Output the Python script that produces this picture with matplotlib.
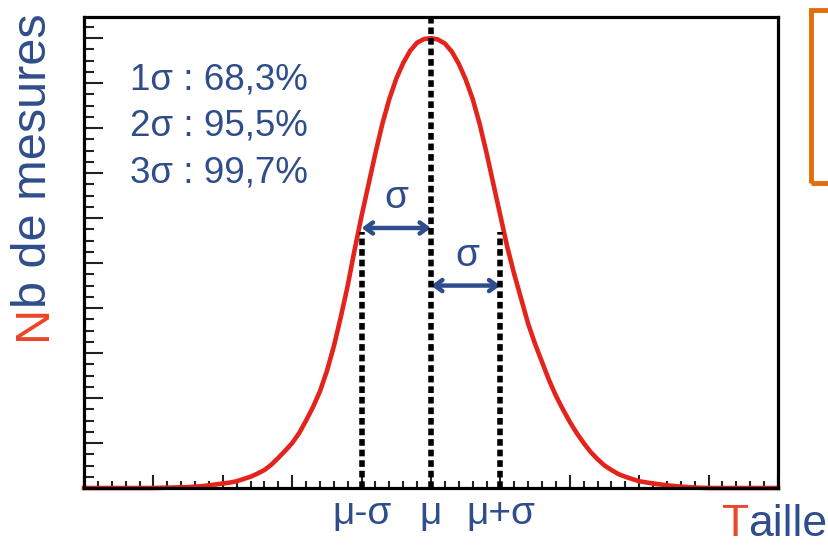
import matplotlib
matplotlib.use("Agg")
import matplotlib.pyplot as plt
from matplotlib.patches import Rectangle
from matplotlib.ticker import MultipleLocator

plt.rcParams['font.family'] = ['Liberation Sans', 'DejaVu Sans']

# courbe de Gauss relevée point par point (taille, nb de mesures)
taille = [0.0, 1.0, 1.5, 1.7, 1.9, 2.0, 2.1, 2.2, 2.3, 2.4, 2.5, 2.6, 2.7,
          2.8, 2.9, 3.0, 3.1, 3.2, 3.3, 3.4, 3.5, 3.6, 3.7, 3.8, 3.9, 4.0,
          4.1, 4.2, 4.3, 4.4, 4.5, 4.6, 4.7, 4.8, 4.9, 5.0, 5.1, 5.2, 5.3,
          5.4, 5.5, 5.6, 5.7, 5.8, 5.9, 6.0, 6.1, 6.2, 6.3, 6.4, 6.5, 6.6,
          6.7, 6.8, 6.9, 7.0, 7.1, 7.2, 7.3, 7.4, 7.5, 7.6, 7.7, 7.8, 7.9,
          8.0, 8.2, 8.4, 8.6, 8.8, 9.0, 10.0]
nb_mesures = [0.0, 0.0, 0.02, 0.04, 0.08, 0.10, 0.12, 0.15, 0.2, 0.25, 0.32,
              0.4, 0.52, 0.67, 0.83, 1.0, 1.22, 1.5, 1.8, 2.15, 2.6, 3.15,
              3.8, 4.5, 5.3, 6.05, 6.75, 7.45, 8.1, 8.65, 9.1, 9.45, 9.72,
              9.9, 9.98, 10.0, 9.97, 9.88, 9.7, 9.43, 9.08, 8.65, 8.1, 7.45,
              6.75, 6.05, 5.35, 4.75, 4.2, 3.65, 3.2, 2.8, 2.4, 2.05, 1.75,
              1.47, 1.22, 1.0, 0.8, 0.64, 0.5, 0.4, 0.31, 0.25, 0.2, 0.15,
              0.1, 0.06, 0.03, 0.01, 0.0, 0.0]

mu = 5.0
sigma = 1.0
sigma_top = 5.7          # haut des pointillés en mu-sigma et mu+sigma
fleches = [(4.0, 5.0, 5.78), (5.0, 6.0, 4.5)]   # (x debut, x fin, y)
labels_x = {4: 'μ-σ', 5: 'μ', 6: 'μ+σ'}
intervalles = ['1σ : 68,3%', '2σ : 95,5%', '3σ : 99,7%']

rouge = '#e4231c'
rouge_txt = '#ec4528'
bleu = '#2f4d8a'

fig = plt.figure(figsize=(8.29, 5.47), dpi=100)
ax = fig.add_axes([84 / 829, 1 - 488 / 547, 694 / 829, 471 / 547])

ax.plot(taille, nb_mesures, color=rouge, lw=3.3, zorder=3, clip_on=False,
        solid_joinstyle='round')

dash = (0, (1.2, 0.7))
ax.plot([mu, mu], [0, 10.47], color='black', lw=4.0, ls=dash, zorder=4)
for xv in (mu - sigma, mu + sigma):
    ax.plot([xv, xv], [0, sigma_top], color='black', lw=4.0, ls=dash, zorder=4)

for x0, x1, y in fleches:
    ax.annotate('', xy=(x1, y), xytext=(x0, y),
                arrowprops=dict(arrowstyle='<->,head_length=0.55,head_width=0.4',
                                color=bleu, lw=3.2, shrinkA=0, shrinkB=0))
ax.text(4.5, 6.05, 'σ', color=bleu, fontsize=28, ha='center', va='bottom')
ax.text(5.52, 4.75, 'σ', color=bleu, fontsize=28, ha='center', va='bottom')

for i, s in enumerate(intervalles):
    ax.text(0.66, 9.07 - 1.03 * i, s, color=bleu, fontsize=26.5,
            ha='left', va='center')

ax.set_xlim(0, 10)
ax.set_ylim(0, 10.47)
ax.set_xticks(range(11), [labels_x.get(k, '') for k in range(11)])
ax.xaxis.set_minor_locator(MultipleLocator(0.2))
ax.yaxis.set_major_locator(MultipleLocator(1))
ax.yaxis.set_minor_locator(MultipleLocator(0.25))
ax.set_yticklabels([])
ax.tick_params(axis='y', which='major', direction='in', length=13.5, width=1.5,
               color='#222222')
ax.tick_params(axis='y', which='minor', direction='in', length=7, width=1.5,
               color='#222222')
ax.tick_params(axis='x', which='major', direction='in', length=9.5, width=1.5,
               color='#222222', labelsize=28, labelcolor=bleu, pad=6)
ax.tick_params(axis='x', which='minor', direction='in', length=5, width=1.5,
               color='#222222')
for sp in ax.spines.values():
    sp.set_linewidth(2.3)
    sp.set_zorder(5)

# titres des axes en deux couleurs
fig.canvas.draw()
rend = fig.canvas.get_renderer()
t_n = fig.text(46 / 829, 1 - 340 / 547, 'N', rotation=90, rotation_mode='anchor',
               ha='left', va='baseline', color=rouge_txt, fontsize=35)
bb = t_n.get_window_extent(rend)
fig.text(46 / 829, (bb.y1 - 3) / fig.bbox.height, 'b de mesures', rotation=90,
         rotation_mode='anchor', ha='left', va='baseline', color=bleu, fontsize=35)

t_t = fig.text(722 / 829, 1 - 536 / 547, 'T', ha='left', va='baseline',
               color=rouge_txt, fontsize=32)
bb = t_t.get_window_extent(rend)
fig.text((bb.x1 - 1) / fig.bbox.width, 1 - 536 / 547, 'aille', ha='left',
         va='baseline', color=bleu, fontsize=32)

# cadre orange coupé par le bord droit
fig.patches.append(Rectangle((811 / 829, 1 - 183 / 547), 60 / 829, 173 / 547,
                             transform=fig.transFigure, fill=False,
                             edgecolor='#e46c0a', lw=3.5))

fig.savefig('out.png', dpi=100)
